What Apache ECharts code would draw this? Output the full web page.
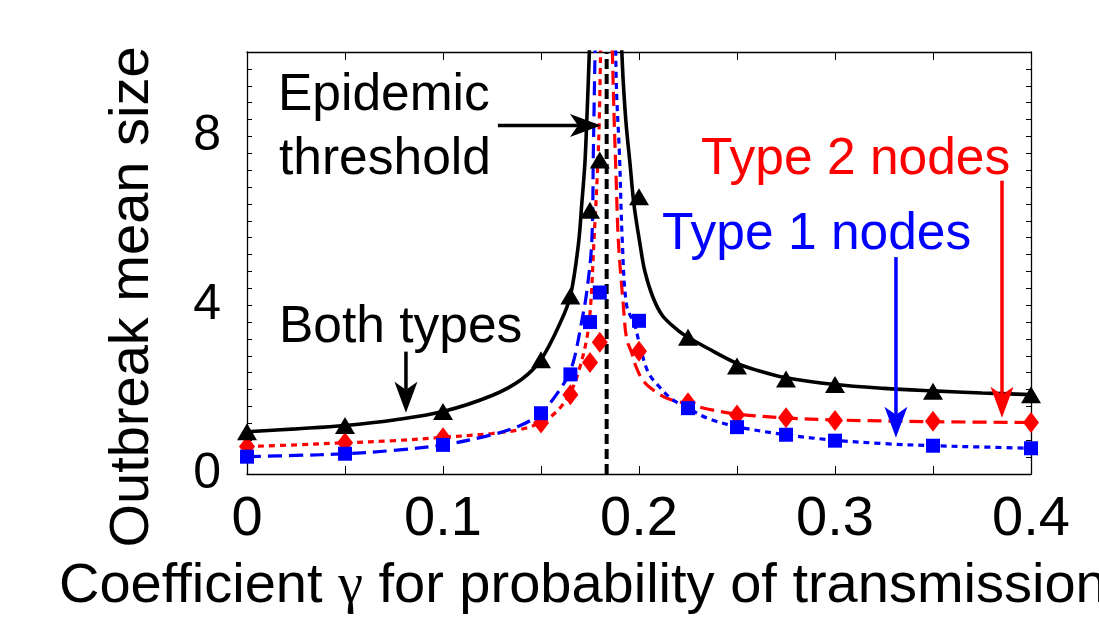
<!DOCTYPE html>
<html>
<head>
<meta charset="utf-8">
<script src="https://cdn.jsdelivr.net/npm/echarts@6/dist/echarts.min.js"></script>
<style>
  html, body { margin: 0; background: #fff; }
  #chart { width: 1099px; height: 620px; }
</style>
</head>
<body>
<div id="chart"></div>
<script>
// simulation points (markers)
const gammaSim = [0, 0.05, 0.1, 0.15, 0.165, 0.175, 0.18, 0.2, 0.225, 0.25, 0.275, 0.3, 0.35, 0.4]
const bothSim = [1.0, 1.15, 1.48, 2.71, 4.22, 6.25, 7.44, 6.57, 3.24, 2.56, 2.25, 2.12, 1.96, 1.88]
const type2Sim = [0.65, 0.74, 0.86, 1.21, 1.88, 2.64, 3.12, 2.91, 1.69, 1.40, 1.33, 1.27, 1.25, 1.22]
const type1Sim = [0.41, 0.48, 0.69, 1.44, 2.36, 3.60, 4.30, 3.63, 1.56, 1.11, 0.93, 0.79, 0.67, 0.61]

// theory curves, below (L) and above (R) the threshold
const gammaBothL = [0, 0.025, 0.05, 0.075, 0.1, 0.125, 0.14, 0.15, 0.16, 0.165, 0.1691, 0.1708, 0.1724, 0.1733, 0.1741, 0.1747]
const bothL = [1.0, 1.07, 1.15, 1.28, 1.48, 1.86, 2.24, 2.71, 3.6, 4.22, 5.45, 6.4, 7.36, 8.31, 9.26, 10.05]
const gammaBothR = [0.1912, 0.192, 0.1934, 0.1954, 0.1974, 0.2005, 0.203, 0.207, 0.212, 0.22, 0.225, 0.235, 0.25, 0.26, 0.275, 0.3, 0.325, 0.35, 0.375, 0.4]
const bothR = [10.05, 9.26, 8.31, 7.36, 6.4, 5.45, 4.8, 4.2, 3.75, 3.4, 3.24, 2.98, 2.62, 2.46, 2.28, 2.12, 2.03, 1.97, 1.92, 1.88]

const gammaT2L = [0, 0.025, 0.05, 0.075, 0.1, 0.125, 0.14, 0.15, 0.155, 0.16, 0.165, 0.169, 0.1733, 0.1753, 0.177, 0.1787, 0.1797, 0.1804]
const type2L = [0.65, 0.69, 0.74, 0.79, 0.87, 0.96, 1.06, 1.22, 1.36, 1.58, 1.92, 2.4, 3.19, 3.98, 5.5, 7.05, 8.31, 10.05]
const gammaT2R = [0.1864, 0.1872, 0.1883, 0.1895, 0.192, 0.1937, 0.1963, 0.198, 0.2014, 0.2048, 0.214, 0.225, 0.235, 0.25, 0.275, 0.3, 0.35, 0.4]
const type2R = [10.05, 8.6, 7.05, 5.5, 4.0, 3.2, 2.87, 2.6, 2.26, 2.08, 1.8, 1.66, 1.54, 1.42, 1.33, 1.28, 1.24, 1.22]

const gammaT1L = [0, 0.025, 0.05, 0.075, 0.1, 0.125, 0.14, 0.15, 0.155, 0.162, 0.165, 0.1673, 0.1707, 0.1733, 0.1759, 0.1767, 0.1772, 0.1776]
const type1L = [0.41, 0.44, 0.48, 0.56, 0.69, 0.93, 1.16, 1.44, 1.7, 2.17, 2.45, 2.8, 3.6, 4.3, 5.5, 7.6, 9.0, 10.05]
const gammaT1R = [0.1881, 0.1886, 0.19, 0.1915, 0.1937, 0.198, 0.2005, 0.2048, 0.2107, 0.216, 0.22, 0.225, 0.235, 0.25, 0.275, 0.3, 0.325, 0.35, 0.375, 0.4]
const type1R = [10.05, 9.0, 7.6, 5.5, 4.0, 3.5, 3.03, 2.4, 2.05, 1.8, 1.68, 1.56, 1.32, 1.12, 0.93, 0.8, 0.72, 0.67, 0.64, 0.61]

const threshold = 0.1835

const FONT = '"Liberation Sans", Arial, Helvetica, sans-serif'
const SERIF = '"Liberation Serif", "DejaVu Serif", serif'
const RED = '#ff0000'
const BLUE = '#0000ff'

const pairs = (xs, ys) => xs.map((x, i) => [x, ys[i]])

function curve(name, xs, ys, color, width, dash) {
  return {
    name,
    type: 'line',
    data: pairs(xs, ys),
    showSymbol: false,
    smooth: 0.35,
    lineStyle: { color, width, type: dash },
    z: 3,
  }
}

function markers(name, ys, symbol, size, color, z) {
  return {
    name,
    type: 'scatter',
    data: pairs(gammaSim, ys),
    symbol,
    symbolSize: size,
    itemStyle: { color, opacity: 1 },
    z,
  }
}

const chart = echarts.init(document.getElementById('chart'), null, { renderer: 'canvas' })

const axisLine = { show: true, onZero: false, lineStyle: { color: '#000', width: 1.3 } }
const tickStyle = { color: '#000', width: 1 }

chart.setOption({
  animation: false,
  backgroundColor: '#fff',
  grid: { left: 247, top: 52, width: 784, height: 422 },
  xAxis: [
    {
      type: 'value', min: 0, max: 0.4, interval: 0.05, position: 'bottom',
      axisLine, splitLine: { show: false },
      axisTick: { inside: true, length: 8, lineStyle: tickStyle },
      axisLabel: {
        margin: 18, color: '#000', fontSize: 56, fontFamily: FONT,
        formatter: v => Math.abs(v * 10 - Math.round(v * 10)) < 1e-6 ? String(+v.toFixed(1)) : '',
      },
    },
    {
      type: 'value', min: 0, max: 0.4, interval: 0.05, position: 'top',
      axisLine, splitLine: { show: false },
      axisTick: { inside: true, length: 8, lineStyle: tickStyle },
      axisLabel: { show: false },
    },
  ],
  yAxis: [
    {
      type: 'value', min: 0, max: 10, interval: 2, position: 'left',
      axisLine, splitLine: { show: false },
      axisTick: { inside: true, length: 5, lineStyle: tickStyle },
      minorTick: { show: true, splitNumber: 5, length: 5, lineStyle: tickStyle },
      axisLabel: {
        margin: 26, color: '#000', fontSize: 50, fontFamily: FONT,
        formatter: v => (v % 4 === 0 && v < 10 ? String(v) : ''),
      },
    },
    {
      type: 'value', min: 0, max: 10, interval: 2, position: 'right',
      axisLine, splitLine: { show: false },
      axisTick: { inside: true, length: 5, lineStyle: tickStyle },
      minorTick: { show: true, splitNumber: 5, length: 5, lineStyle: tickStyle },
      axisLabel: { show: false },
    },
  ],
  series: [
    {
      name: 'threshold',
      type: 'line',
      data: [[threshold, 0], [threshold, 10]],
      showSymbol: false,
      lineStyle: { color: '#000', width: 4, type: [10, 5] },
      z: 2,
    },
    curve('type2 L', gammaT2L, type2L, RED, 3.2, [6, 5]),
    curve('type1 L', gammaT1L, type1L, BLUE, 3.2, [14, 7]),
    curve('type2 R', gammaT2R, type2R, RED, 3.2, [14, 7]),
    curve('type1 R', gammaT1R, type1R, BLUE, 3.2, [6, 5]),
    curve('both L', gammaBothL, bothL, '#000', 3.6, 'solid'),
    curve('both R', gammaBothR, bothR, '#000', 3.6, 'solid'),
    markers('Type 2 nodes', type2Sim, 'diamond', [16, 21], RED, 5),
    markers('Type 1 nodes', type1Sim, 'rect', 14, BLUE, 6),
    markers('Both types', bothSim, 'triangle', [20, 17], '#000', 7),
  ],
})

// annotation arrows, in data coordinates: [from, to, colour]
const arrows = [
  [[0.128, 8.26], [0.1806, 8.26], '#000'],
  [[0.0811, 2.9], [0.0811, 1.45], '#000'],
  [[0.3852, 6.95], [0.3852, 1.33], RED],
  [[0.3311, 5.14], [0.3311, 0.86], BLUE],
]

function arrowShapes([from, to, color]) {
  const p0 = chart.convertToPixel({ gridIndex: 0 }, from)
  const p1 = chart.convertToPixel({ gridIndex: 0 }, to)
  const dx = p1[0] - p0[0]
  const dy = p1[1] - p0[1]
  const len = Math.hypot(dx, dy)
  const ux = dx / len
  const uy = dy / len
  const nx = -uy
  const ny = ux
  const L = 31
  const W = 11.5
  const notch = 23
  const bx = p1[0] - ux * L
  const by = p1[1] - uy * L
  const mx = p1[0] - ux * notch
  const my = p1[1] - uy * notch
  return [
    { type: 'line', shape: { x1: p0[0], y1: p0[1], x2: mx, y2: my }, style: { stroke: color, lineWidth: 3.5 }, z: 20 },
    {
      type: 'polygon',
      shape: { points: [[p1[0], p1[1]], [bx + nx * W, by + ny * W], [mx, my], [bx - nx * W, by - ny * W]] },
      style: { fill: color },
      z: 20,
    },
  ]
}

function label(text, x, y, size, color) {
  return {
    type: 'text',
    z: 20,
    style: { text, x, y, font: `${size}px ${FONT}`, fill: color, align: 'left', verticalAlign: 'middle' },
  }
}

chart.setOption({
  graphic: [
    ...arrows.flatMap(arrowShapes),
    label('Epidemic', 278, 96, 51.5, '#000'),
    label('threshold', 279, 160, 51.5, '#000'),
    label('Both types', 279, 328, 51.5, '#000'),
    label('Type 2 nodes', 701, 160, 51.5, RED),
    label('Type 1 nodes', 662, 235, 51.5, BLUE),
    {
      type: 'text', z: 20,
      style: {
        text: '{a|Coefficient }{g|\u03b3}{a| for probability of transmission}',
        x: 59, y: 587, align: 'left', verticalAlign: 'middle',
        rich: {
          a: { fontSize: 56, fontFamily: FONT, fill: '#000' },
          g: { fontSize: 56, fontFamily: SERIF, fill: '#000' },
        },
      },
    },
    {
      type: 'text', z: 20, x: 133, y: 297, rotation: Math.PI / 2,
      style: { text: 'Outbreak mean size', x: 0, y: 0, font: `56px ${FONT}`, fill: '#000', align: 'center', verticalAlign: 'middle' },
    },
    // bottom of a cut-off title line above the figure
    label('(', 270, -24, 50, '#000'),
    label(')', 412, -24, 50, '#000'),
  ],
})
</script>
</body>
</html>
